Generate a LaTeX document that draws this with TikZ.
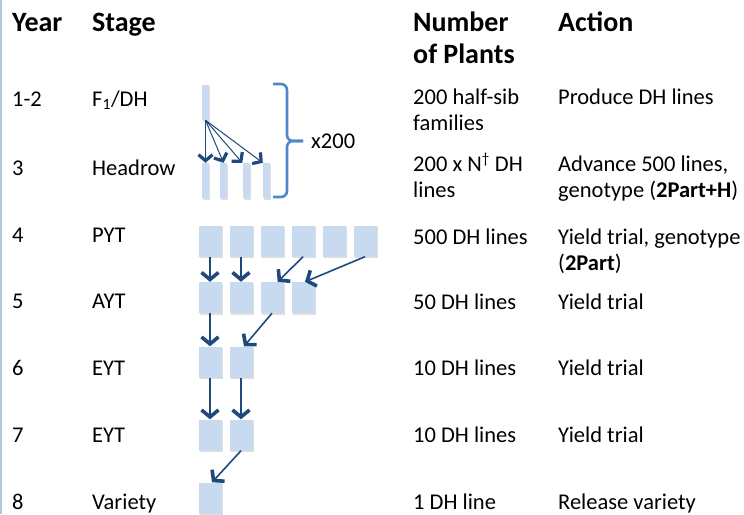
\documentclass[tikz,border=0pt]{standalone}
\usepackage{fontspec}
\setmainfont{Carlito}
\usetikzlibrary{arrows.meta, shadows}

\definecolor{plotfill}{RGB}{200,218,240}
\definecolor{arrowblue}{RGB}{31,73,125}
\definecolor{braceblue}{RGB}{79,135,200}
\definecolor{edgeblue}{RGB}{180,198,222}

\begin{document}
\begin{tikzpicture}[
				x=1pt, y=-1pt,
				head/.style={anchor=base west, inner sep=0, align=left, font=\fontsize{28}{32}\selectfont\bfseries},
				txt/.style={anchor=base west, inner sep=0, align=left, font=\fontsize{22.5}{26}\selectfont},
				plot/.style={rectangle, fill=plotfill, inner sep=0, minimum width=23pt, minimum height=31pt,
					drop shadow={shadow xshift=1pt, shadow yshift=-1.5pt, opacity=0.25}},
				bar/.style={plot, minimum width=7pt, minimum height=35pt},
				to/.style={-{Straight Barb[length=7pt, width=17pt, line width'=3.6pt]}, line width=1.6pt, draw=arrowblue},
				fan/.style={-{Straight Barb[length=6pt, width=14pt, line width'=3.2pt]}, line width=1pt, draw=arrowblue},
				brace/.style={draw=braceblue, line width=2.6pt, rounded corners=6pt}
				]
				
				\useasboundingbox (0,0) rectangle (744,514);
				\draw[edgeblue, line width=1.5pt] (0.75,0) -- (0.75,514);
				
				% column heads
				\node[head] (year) at (12,31) {Year};
				\node[head] (stage) at (92,31) {Stage};
				\node[head] (number) at (413,63) {Number\\of Plants};
				\node[head] (action) at (558,31) {Action};
				
				% year and stage
				\node[txt] (y1) at (12,106) {1-2};
				\node[txt] (s1) at (92,106) {F\textsubscript{1}/DH};
				\node[txt] (y3) at (12,175) {3};
				\node[txt] (s3) at (92,175) {Headrow};
				\node[txt] (y4) at (12,242) {4};
				\node[txt] (s4) at (92,242) {PYT};
				\node[txt] (y5) at (12,308) {5};
				\node[txt] (s5) at (92,308) {AYT};
				\node[txt] (y6) at (12,375) {6};
				\node[txt] (s6) at (92,375) {EYT};
				\node[txt] (y7) at (12,442) {7};
				\node[txt] (s7) at (92,442) {EYT};
				\node[txt] (y8) at (12,509) {8};
				\node[txt] (s8) at (92,509) {Variety};
				
				% number of plants and action (multi-line nodes sit on their last line)
				\node[txt] (n1) at (413,130) {200 half-sib\\families};
				\node[txt] (c1) at (558,104) {Produce DH lines};
				\node[txt] (n3) at (413,197) {200 x N\textsuperscript{\fontsize{15}{15}\selectfont †} DH\\lines};
				\node[txt] (c3) at (558,197) {Advance 500 lines,\\genotype (\textbf{2Part+H})};
				\node[txt] (n4) at (413,244) {500 DH lines};
				\node[txt] (c4) at (558,270) {Yield trial, genotype\\(\textbf{2Part})};
				\node[txt] (n5) at (413,309) {50 DH lines};
				\node[txt] (c5) at (558,309) {Yield trial};
				\node[txt] (n6) at (413,375) {10 DH lines};
				\node[txt] (c6) at (558,375) {Yield trial};
				\node[txt] (n7) at (413,442) {10 DH lines};
				\node[txt] (c7) at (558,442) {Yield trial};
				\node[txt] (n8) at (413,509) {1 DH line};
				\node[txt] (c8) at (558,509) {Release variety};
				
				% F1 and headrows
				\node[bar] (f) at (205.5,102.5) {};
				\node[bar] (h1) at (205.5,180.5) {};
				\node[bar] (h2) at (223.5,180.5) {};
				\node[bar] (h3) at (246,180.5) {};
				\node[bar] (h4) at (266.5,180.5) {};
				\draw[fan] (f.south) -- (h1.north);
				\draw[fan] (f.south) -- (h2.north);
				\draw[fan] (f.south) -- (h3.north west);
				\draw[fan] (f.south) -- (h4.north west);
				\draw[brace] (273,84) -| (287,141) -- (303,141);
				\draw[brace] (273,197) -| (287,141) -- (303,141);
				\node[txt] (times) at (311,148) {x200};
				
				% yield trial plots
				\foreach \i in {1,...,6} \node[plot] (p\i) at ({210+31*(\i-1)},241) {};
				\foreach \i in {1,...,4} \node[plot] (a\i) at ({210+31*(\i-1)},297.5) {};
				\foreach \i in {1,2} \node[plot] (e\i) at ({210+31*(\i-1)},362) {};
				\foreach \i in {1,2} \node[plot] (g\i) at ({210+31*(\i-1)},435) {};
				\node[plot] (v) at (210,498) {};
				
				\draw[to] (p1) -- (a1);
				\draw[to] (p2) -- (a2);
				\draw[to] (p4.south) -- ([xshift=-6pt]a3.north east);
				\draw[to] (p6.south) -- ([xshift=2pt]a4.north);
				\draw[to] (a1) -- (e1);
				\draw[to] (a3.south) -- ([xshift=3pt]e2.north);
				\draw[to] (e1) -- (g1);
				\draw[to] (e2) -- (g2);
				\draw[to] (g2.south) -- ([xshift=2pt]v.north);
				\end{tikzpicture}
\end{document}
